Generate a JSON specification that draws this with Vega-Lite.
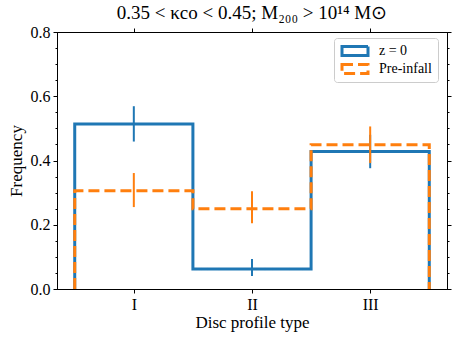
{
  "$schema": "https://vega.github.io/schema/vega-lite/v6.json",
  "width": 390,
  "height": 257,
  "autosize": {"type": "none"},
  "padding": {"left": 57, "top": 32, "right": 11, "bottom": 54},
  "background": "white",
  "title": {"text": "0.35 < κco < 0.45; M₂₀₀ > 10¹⁴ M⊙", "font": "Liberation Serif", "fontSize": 19, "fontWeight": "normal", "color": "black", "anchor": "middle", "offset": 1},
  "config": {
    "view": {"stroke": "black", "strokeWidth": 1},
    "axis": {"domainColor": "black", "tickColor": "black", "labelColor": "black", "titleColor": "black", "labelFont": "Liberation Serif", "titleFont": "Liberation Serif", "labelFontSize": 16, "titleFontSize": 17, "titleFontWeight": "normal", "grid": false, "domainWidth": 1, "tickWidth": 1},
    "legend": {"labelFont": "Liberation Serif", "labelFontSize": 14, "labelColor": "black", "strokeColor": "#cccccc", "fillColor": "white", "cornerRadius": 3, "padding": 6, "rowPadding": 4, "symbolType": "M-2,-0.7H2V0.7H-2Z", "symbolSize": 169, "symbolStrokeWidth": 3, "symbolFillColor": "transparent", "labelOffset": 16, "symbolOffset": 7, "clipHeight": 14}
  },
  "datasets": {
    "outline": [
      {"series": "z = 0", "i": 0, "x": 0.5, "y": 0},
      {"series": "z = 0", "i": 1, "x": 0.5, "y": 0.514},
      {"series": "z = 0", "i": 2, "x": 1.5, "y": 0.514},
      {"series": "z = 0", "i": 3, "x": 1.5, "y": 0.062},
      {"series": "z = 0", "i": 4, "x": 2.5, "y": 0.062},
      {"series": "z = 0", "i": 5, "x": 2.5, "y": 0.428},
      {"series": "z = 0", "i": 6, "x": 3.5, "y": 0.428},
      {"series": "z = 0", "i": 7, "x": 3.5, "y": 0},
      {"series": "Pre-infall", "i": 0, "x": 0.5, "y": 0},
      {"series": "Pre-infall", "i": 1, "x": 0.5, "y": 0.306},
      {"series": "Pre-infall", "i": 2, "x": 1.5, "y": 0.306},
      {"series": "Pre-infall", "i": 3, "x": 1.5, "y": 0.25},
      {"series": "Pre-infall", "i": 4, "x": 2.5, "y": 0.25},
      {"series": "Pre-infall", "i": 5, "x": 2.5, "y": 0.449},
      {"series": "Pre-infall", "i": 6, "x": 3.5, "y": 0.449},
      {"series": "Pre-infall", "i": 7, "x": 3.5, "y": 0}
    ],
    "err": [
      {"series": "z = 0", "x": 1, "lo": 0.459, "hi": 0.569},
      {"series": "z = 0", "x": 2, "lo": 0.0405, "hi": 0.093},
      {"series": "z = 0", "x": 3, "lo": 0.376, "hi": 0.48},
      {"series": "Pre-infall", "x": 1, "lo": 0.255, "hi": 0.361},
      {"series": "Pre-infall", "x": 2, "lo": 0.205, "hi": 0.304},
      {"series": "Pre-infall", "x": 3, "lo": 0.392, "hi": 0.506}
    ]
  },
  "layer": [
    {
      "data": {"name": "outline"},
      "mark": {"type": "line", "strokeWidth": 3, "strokeCap": "butt", "strokeJoin": "miter"},
      "encoding": {
        "x": {"field": "x", "type": "quantitative", "scale": {"domain": [0.35, 3.65], "nice": false, "zero": false},
          "axis": {"orient": "bottom", "values": [1, 2, 3], "labelExpr": "datum.value == 1 ? 'I' : datum.value == 2 ? 'II' : 'III'", "title": "Disc profile type", "tickSize": 4, "labelPadding": 3, "titlePadding": 2}},
        "y": {"field": "y", "type": "quantitative", "scale": {"domain": [0, 0.8], "nice": false},
          "axis": {"orient": "left", "values": [0, 0.05, 0.1, 0.15, 0.2, 0.25, 0.3, 0.35, 0.4, 0.45, 0.5, 0.55, 0.6, 0.65, 0.7, 0.75, 0.8],
            "labelExpr": "round(datum.value*20) % 4 === 0 ? format(datum.value, '.1f') : ''",
            "tickSize": {"condition": {"test": "round(datum.value*20) % 4 === 0", "value": 4}, "value": 2},
            "title": "Frequency", "labelPadding": 3, "titlePadding": 5}},
        "color": {"field": "series", "type": "nominal", "scale": {"domain": ["z = 0", "Pre-infall"], "range": ["#1f77b4", "#ff7f0e"]},
          "legend": {"title": null, "orient": "none", "legendX": 277, "legendY": 6}},
        "strokeDash": {"field": "series", "type": "nominal", "scale": {"domain": ["z = 0", "Pre-infall"], "range": [[1, 0], [11, 5]]},
          "legend": {"title": null, "orient": "none", "legendX": 277, "legendY": 6}},
        "order": {"field": "i", "type": "quantitative"}
      }
    },
    {
      "data": {"name": "err"},
      "mark": {"type": "rule", "strokeWidth": 2},
      "encoding": {
        "x": {"field": "x", "type": "quantitative", "axis": {"orient": "top", "values": [1, 2, 3], "labels": false, "title": null, "tickSize": 4}},
        "y": {"field": "lo", "type": "quantitative",
          "axis": {"orient": "right", "values": [0, 0.05, 0.1, 0.15, 0.2, 0.25, 0.3, 0.35, 0.4, 0.45, 0.5, 0.55, 0.6, 0.65, 0.7, 0.75, 0.8], "labels": false, "title": null,
            "tickSize": {"condition": {"test": "round(datum.value*20) % 4 === 0", "value": 4}, "value": 2}}},
        "y2": {"field": "hi"},
        "color": {"field": "series", "type": "nominal", "legend": {"title": null, "orient": "none", "legendX": 277, "legendY": 6}}
      }
    }
  ],
  "resolve": {"axis": {"x": "independent", "y": "independent"}}
}
